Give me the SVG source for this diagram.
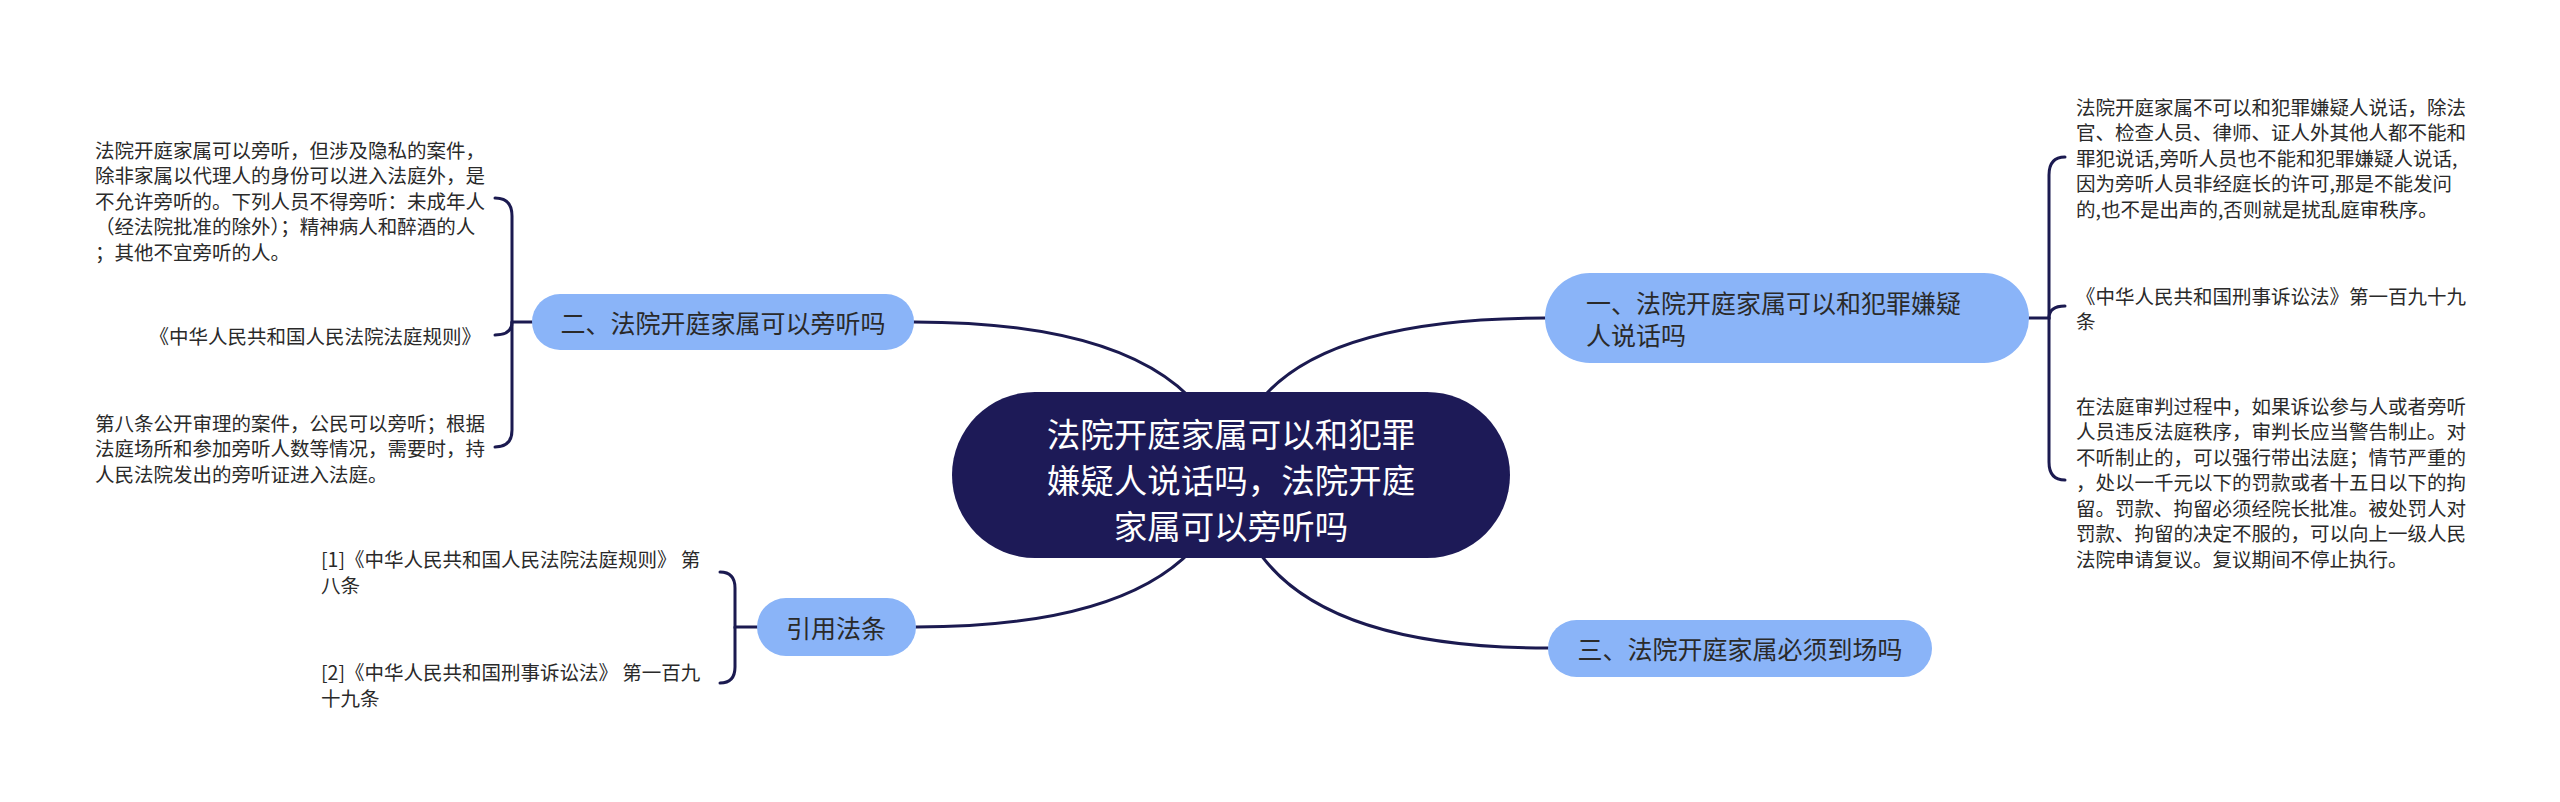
<svg xmlns="http://www.w3.org/2000/svg" width="2560" height="802" viewBox="0 0 2560 802">
<style>
.bg{fill:#ffffff}
.edge{fill:none;stroke:#1b1a50;stroke-width:3;stroke-linecap:round}
.root{fill:#1d1a57}
.sub{fill:#8ab4f8}
.t{font-family:"Noto Sans CJK SC","Noto Sans",sans-serif;dominant-baseline:central}
.rt{font-size:33.5px;fill:#ffffff;text-anchor:middle}
.st{font-size:25px;fill:#2a2a2a}
.lt{font-size:19.5px;fill:#2a2a2a}
</style>
<rect class="bg" x="0" y="0" width="2560" height="802"/>
<g id="connectors">
<path class="edge" d="M914 322 Q1200 322 1231 475"/>
<path class="edge" d="M916 627 Q1200 627 1231 475"/>
<path class="edge" d="M1545 318 Q1245 318 1231 475"/>
<path class="edge" d="M1548 648 Q1250 648 1231 475"/>
<path class="edge" d="M532 322 H512 V216 Q512 198 495 198"/>
<path class="edge" d="M512 322 Q512 335 495 335"/>
<path class="edge" d="M512 322 V430 Q512 447 495 447"/>
<path class="edge" d="M2029 318 H2049 V175 Q2049 157 2065 157"/>
<path class="edge" d="M2049 318 Q2049 306 2065 306"/>
<path class="edge" d="M2049 318 V462 Q2049 480 2065 480"/>
<path class="edge" d="M757 627 H735 V588 Q735 572 720 572"/>
<path class="edge" d="M735 627 V667 Q735 683 720 683"/>
</g>
<g id="root">
<rect class="root" x="952" y="392" width="558" height="166" rx="83"/>
<text class="t rt" x="1231" y="432">法院开庭家属可以和犯罪</text>
<text class="t rt" x="1231" y="478">嫌疑人说话吗，法院开庭</text>
<text class="t rt" x="1231" y="524">家属可以旁听吗</text>
</g>
<g id="n2">
<rect class="sub" x="532" y="294" width="382" height="56" rx="28"/>
<text class="t st" x="723" y="322" text-anchor="middle">二、法院开庭家属可以旁听吗</text>
</g>
<g id="n1">
<rect class="sub" x="1545" y="273" width="484" height="90" rx="45"/>
<text class="t st" x="1586" y="302">一、法院开庭家属可以和犯罪嫌疑</text>
<text class="t st" x="1586" y="334">人说话吗</text>
</g>
<g id="n3">
<rect class="sub" x="1548" y="620" width="384" height="57" rx="28.5"/>
<text class="t st" x="1740" y="648" text-anchor="middle">三、法院开庭家属必须到场吗</text>
</g>
<g id="n4">
<rect class="sub" x="757" y="598" width="159" height="58" rx="29"/>
<text class="t st" x="836" y="627" text-anchor="middle">引用法条</text>
</g>
<g id="l1">
<text class="t lt" x="95" y="149">法院开庭家属可以旁听，但涉及隐私的案件，</text>
<text class="t lt" x="95" y="174.5">除非家属以代理人的身份可以进入法庭外，是</text>
<text class="t lt" x="95" y="200">不允许旁听的。下列人员不得旁听：未成年人</text>
<text class="t lt" x="95" y="225.5">（经法院批准的除外）；精神病人和醉酒的人</text>
<text class="t lt" x="95" y="251">；其他不宜旁听的人。</text>
</g>
<g id="l2">
<text class="t lt" x="481" y="335" text-anchor="end">《中华人民共和国人民法院法庭规则》</text>
</g>
<g id="l3">
<text class="t lt" x="95" y="422">第八条公开审理的案件，公民可以旁听；根据</text>
<text class="t lt" x="95" y="447.5">法庭场所和参加旁听人数等情况，需要时，持</text>
<text class="t lt" x="95" y="473">人民法院发出的旁听证进入法庭。</text>
</g>
<g id="r1">
<text class="t lt" x="2076" y="106">法院开庭家属不可以和犯罪嫌疑人说话，除法</text>
<text class="t lt" x="2076" y="131.5">官、检查人员、律师、证人外其他人都不能和</text>
<text class="t lt" x="2076" y="157">罪犯说话,旁听人员也不能和犯罪嫌疑人说话,</text>
<text class="t lt" x="2076" y="182.5">因为旁听人员非经庭长的许可,那是不能发问</text>
<text class="t lt" x="2076" y="208">的,也不是出声的,否则就是扰乱庭审秩序。</text>
</g>
<g id="r2">
<text class="t lt" x="2076" y="295">《中华人民共和国刑事诉讼法》第一百九十九</text>
<text class="t lt" x="2076" y="320.5">条</text>
</g>
<g id="r3">
<text class="t lt" x="2076" y="405">在法庭审判过程中，如果诉讼参与人或者旁听</text>
<text class="t lt" x="2076" y="430.5">人员违反法庭秩序，审判长应当警告制止。对</text>
<text class="t lt" x="2076" y="456">不听制止的，可以强行带出法庭；情节严重的</text>
<text class="t lt" x="2076" y="481.5">，处以一千元以下的罚款或者十五日以下的拘</text>
<text class="t lt" x="2076" y="507">留。罚款、拘留必须经院长批准。被处罚人对</text>
<text class="t lt" x="2076" y="532.5">罚款、拘留的决定不服的，可以向上一级人民</text>
<text class="t lt" x="2076" y="558">法院申请复议。复议期间不停止执行。</text>
</g>
<g id="ref1">
<text class="t lt" x="321" y="558">[1]《中华人民共和国人民法院法庭规则》 第</text>
<text class="t lt" x="321" y="584">八条</text>
</g>
<g id="ref2">
<text class="t lt" x="321" y="671">[2]《中华人民共和国刑事诉讼法》 第一百九</text>
<text class="t lt" x="321" y="697">十九条</text>
</g>
</svg>
